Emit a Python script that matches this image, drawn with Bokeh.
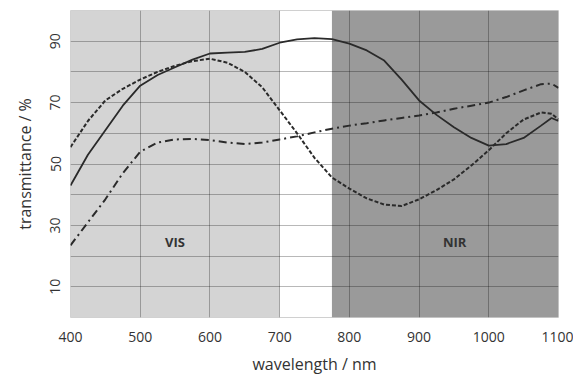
from bokeh.plotting import figure
from bokeh.models import Range1d, FixedTicker, Label
from bokeh.embed import file_html
from bokeh.resources import INLINE

wavelength = [400, 425, 450, 475, 500, 525, 550, 575, 600, 625, 650, 675, 700, 725, 750, 775, 800,
              825, 850, 875, 900, 925, 950, 975, 1000, 1025, 1050, 1075, 1090, 1100]
solid = [43, 53, 61, 69, 75.5, 79, 81.5, 84, 86, 86.3, 86.5, 87.5, 89.5, 90.6, 91, 90.7, 89.2,
         87, 83.7, 77.5, 70.7, 66, 62, 58.5, 56, 56.5, 58.5, 62.5, 65, 64]
dashed = [55.5, 64, 70.7, 74.5, 77.5, 80, 82, 83.5, 84.3, 83, 80, 75, 67.5, 60, 52, 45.6, 42,
          38.8, 36.8, 36.3, 38.5, 41.5, 45, 49.5, 54.5, 60, 64.5, 66.8, 66.4, 64.5]
dashdot = [23.5, 31, 38.5, 47, 54, 57, 58, 58.2, 57.8, 57, 56.5, 57, 58, 59, 60.3, 61.5, 62.5,
           63.3, 64.2, 65, 65.8, 66.8, 68, 69, 70, 71.8, 74, 76, 76.2, 74.8]

vis_band = (400, 700)
nir_band = (775, 1100)
y_ticks = [10, 30, 50, 70, 90]
x_ticks = [400, 500, 600, 700, 800, 900, 1000, 1100]

p = figure(width=573, height=377, output_backend="svg", toolbar_location=None,
           x_range=Range1d(400, 1100), y_range=Range1d(0, 100),
           min_border_left=70, min_border_right=15, min_border_top=10, min_border_bottom=60)
p.outline_line_color = "#d0d0d0"
p.background_fill_color = "white"

p.quad(left=[vis_band[0]], right=[vis_band[1]], bottom=[0], top=[100],
       fill_color="#d4d4d4", line_color=None, level="image")
p.quad(left=[nir_band[0]], right=[nir_band[1]], bottom=[0], top=[100],
       fill_color="#9a9a9a", line_color=None, level="image")

p.xaxis.ticker = FixedTicker(ticks=x_ticks)
p.yaxis.ticker = FixedTicker(ticks=y_ticks, minor_ticks=list(range(0, 101, 10)))
p.xgrid.ticker = FixedTicker(ticks=x_ticks)
p.ygrid.ticker = FixedTicker(ticks=list(range(0, 101, 10)))
for g in (p.xgrid, p.ygrid):
    g.grid_line_color = "black"
    g.grid_line_alpha = 0.28
    g.grid_line_width = 1

for ax in (p.xaxis, p.yaxis):
    ax.axis_line_color = None
    ax.major_tick_line_color = None
    ax.minor_tick_line_color = None
    ax.major_label_text_font = "Open Sans"
    ax.major_label_text_font_size = "14px"
    ax.major_label_text_color = "#333333"
    ax.axis_label_text_font = "Open Sans"
    ax.axis_label_text_font_size = "16px"
    ax.axis_label_text_font_style = "normal"
    ax.axis_label_text_color = "#333333"

p.yaxis.major_label_orientation = "vertical"
p.xaxis.axis_label = "wavelength / nm"
p.yaxis.axis_label = "transmittance / %"
p.xaxis.major_label_standoff = 8
p.yaxis.major_label_standoff = 4
p.xaxis.axis_label_standoff = 8
p.yaxis.axis_label_standoff = 12

p.line(wavelength, solid, line_color="#2a2a2a", line_width=1.8)
p.line(wavelength, dashed, line_color="#2a2a2a", line_width=2, line_dash="4 2")
p.line(wavelength, dashdot, line_color="#2a2a2a", line_width=2, line_dash="8 4 2 4")

for txt, xv in (("VIS", 550), ("NIR", 951)):
    p.add_layout(Label(x=xv, y=24.5, text=txt, text_font="Open Sans", text_font_size="13px",
                       text_font_style="bold", text_color="#333333",
                       text_align="center", text_baseline="middle"))

open("out.html", "w").write(file_html(p, INLINE))
